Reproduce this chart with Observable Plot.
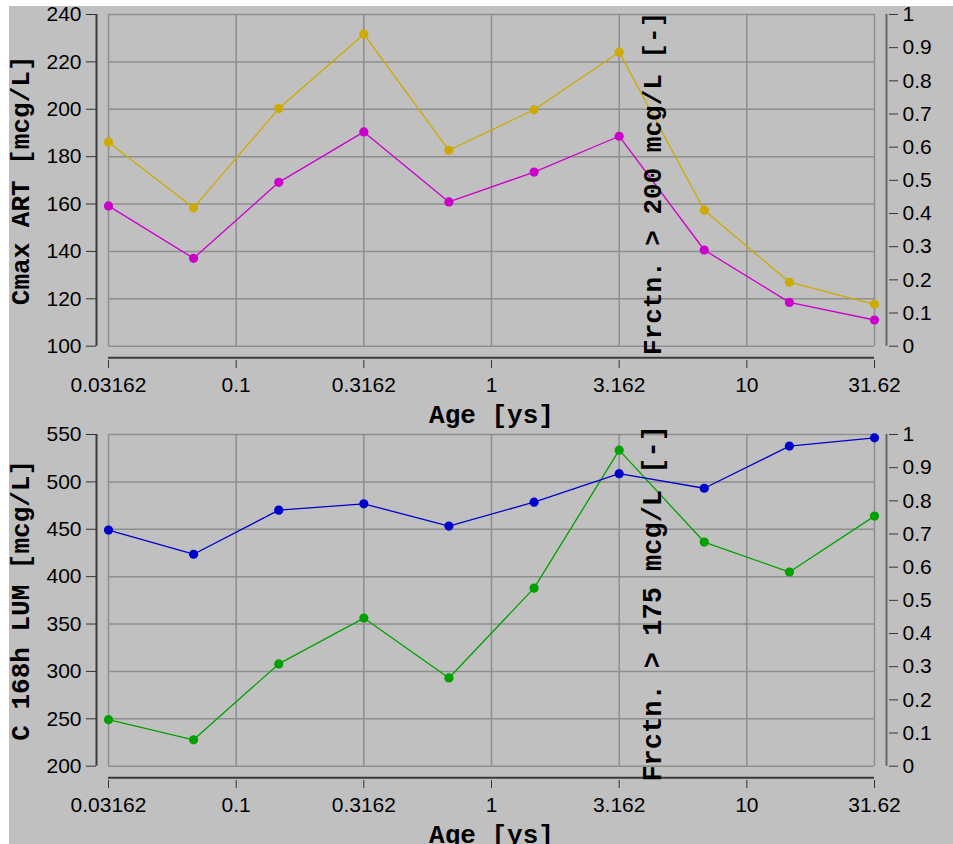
<!DOCTYPE html>
<html>
<head>
<meta charset="utf-8">
<script src="https://cdn.jsdelivr.net/npm/d3@7"></script>
<script src="https://cdn.jsdelivr.net/npm/@observablehq/plot@0.6"></script>
<style>
  html, body { margin: 0; padding: 0; background: #ffffff; }
  #page { position: relative; width: 953px; height: 844px; overflow: hidden; }
  #bg { position: absolute; left: 9px; top: 6px; width: 944px; height: 838px; background: #c0c0c0; }
  .panel { position: absolute; left: 0; }
</style>
</head>
<body>
<div id="page"><div id="bg"></div></div>
<script>
// ---- data ----
const ages = [0.03162, 0.0681, 0.1468, 0.3162, 0.681, 1.468, 3.162, 6.81, 14.68, 31.62];
const xTicks = [0.03162, 0.1, 0.3162, 1, 3.162, 10, 31.62];
const xTickLabels = ["0.03162", "0.1", "0.3162", "1", "3.162", "10", "31.62"];

const cmaxArt = [186.1, 158.4, 200.3, 231.7, 182.7, 199.8, 224.1, 157.4, 127.0, 117.7];
const frac200 = [0.423, 0.265, 0.494, 0.646, 0.435, 0.525, 0.633, 0.290, 0.132, 0.079];
const c168Lum = [249.1, 227.8, 307.9, 356.3, 293.1, 387.9, 533.5, 436.5, 404.9, 463.9];
const frac175 = [0.712, 0.639, 0.772, 0.791, 0.724, 0.796, 0.882, 0.838, 0.965, 0.990];

const topLeftTicks = [100, 120, 140, 160, 180, 200, 220, 240];
const bottomLeftTicks = [200, 250, 300, 350, 400, 450, 500, 550];
const rightTicks = [0, 0.1, 0.2, 0.3, 0.4, 0.5, 0.6, 0.7, 0.8, 0.9, 1];
const rightTickLabels = ["0", "0.1", "0.2", "0.3", "0.4", "0.5", "0.6", "0.7", "0.8", "0.9", "1"];

const xTitle = "Age [ys]";

function panel({leftTicks, leftVals, rightVals, leftColor, rightColor, leftTitle, rightTitle, rightTitleSize}) {
  const lo = leftTicks[0], hi = leftTicks[leftTicks.length - 1];
  const toLeft = f => lo + f * (hi - lo);
  const rightPos = rightTicks.map(toLeft);
  const leftData = ages.map((a, i) => ({x: a, y: leftVals[i]}));
  const rightData = ages.map((a, i) => ({x: a, y: toLeft(rightVals[i])}));
  const gridStyle = {stroke: "#8e8e8e", strokeOpacity: 1, strokeWidth: 1.5};
  const titleFont = {fontFamily: "Liberation Mono, Courier New, monospace", fontWeight: "bold", fontSize: 26};
  return Plot.plot({
    width: 953, height: 420,
    marginLeft: 108, marginRight: 79, marginTop: 14, marginBottom: 74.3,
    style: {background: "transparent", fontFamily: "Liberation Sans, Arial, sans-serif", fontSize: "21px", overflow: "visible", color: "#000"},
    x: {type: "log", domain: [xTicks[0], xTicks[xTicks.length - 1]]},
    y: {domain: [lo, hi]},
    marks: [
      Plot.gridX(xTicks, gridStyle),
      Plot.gridY(leftTicks, gridStyle),
      Plot.ruleX([xTicks[0]], {y1: lo, y2: hi, dx: -12, stroke: "#3a3a3a", strokeWidth: 2}),
      Plot.ruleX([xTicks[xTicks.length - 1]], {y1: lo, y2: hi, dx: 12, stroke: "#666666", strokeWidth: 2}),
      Plot.ruleY([lo], {dy: 11.6, stroke: "#3a3a3a", strokeWidth: 2}),
      Plot.axisY(leftTicks, {anchor: "left", dx: -12, tickSize: 10, tickPadding: 5, label: null, stroke: "#333"}),
      Plot.axisY(rightPos, {anchor: "right", dx: 14, tickSize: 9, tickPadding: 5, label: null, stroke: "#333",
        tickFormat: d => rightTickLabels[rightPos.indexOf(d)]}),
      Plot.axisX(xTicks, {anchor: "bottom", dy: 14.3, tickSize: 8, tickPadding: 8.5, label: null, stroke: "#333",
        tickFormat: d => xTickLabels[xTicks.indexOf(d)]}),
      Plot.line(leftData, {x: "x", y: "y", stroke: leftColor, strokeWidth: 1.3}),
      Plot.dot(leftData, {x: "x", y: "y", fill: leftColor, r: 4.6}),
      Plot.line(rightData, {x: "x", y: "y", stroke: rightColor, strokeWidth: 1.3}),
      Plot.dot(rightData, {x: "x", y: "y", fill: rightColor, r: 4.6}),
      Plot.text([leftTitle], {text: d => d, frameAnchor: "left", dx: -88, rotate: -90,
        textAnchor: "middle", lineAnchor: "middle", fill: "#000", ...titleFont}),
      Plot.text([rightTitle], {text: d => d, frameAnchor: "left", dx: 544, dy: 3, rotate: -90,
        textAnchor: "middle", lineAnchor: "middle", fill: "#000", ...titleFont, fontSize: rightTitleSize}),
      Plot.text([xTitle], {text: d => d, frameAnchor: "bottom", dy: 68.3,
        textAnchor: "middle", lineAnchor: "middle", fill: "#000", ...titleFont})
    ]
  });
}

const page = document.getElementById("page");
const p1 = panel({leftTicks: topLeftTicks, leftVals: cmaxArt, rightVals: frac200,
  leftColor: "#ccaa00", rightColor: "#cc00cc",
  leftTitle: "Cmax ART [mcg/L]", rightTitle: "Frctn. > 200 mcg/L [-]", rightTitleSize: 26});
p1.classList.add("panel"); p1.style.top = "0px";
page.appendChild(p1);
const p2 = panel({leftTicks: bottomLeftTicks, leftVals: c168Lum, rightVals: frac175,
  leftColor: "#00a000", rightColor: "#0000cc",
  leftTitle: "C 168h LUM [mcg/L]", rightTitle: "Frctn. > 175 mcg/L [-]", rightTitleSize: 27});
p2.classList.add("panel"); p2.style.top = "420px";
page.appendChild(p2);
</script>
</body>
</html>
